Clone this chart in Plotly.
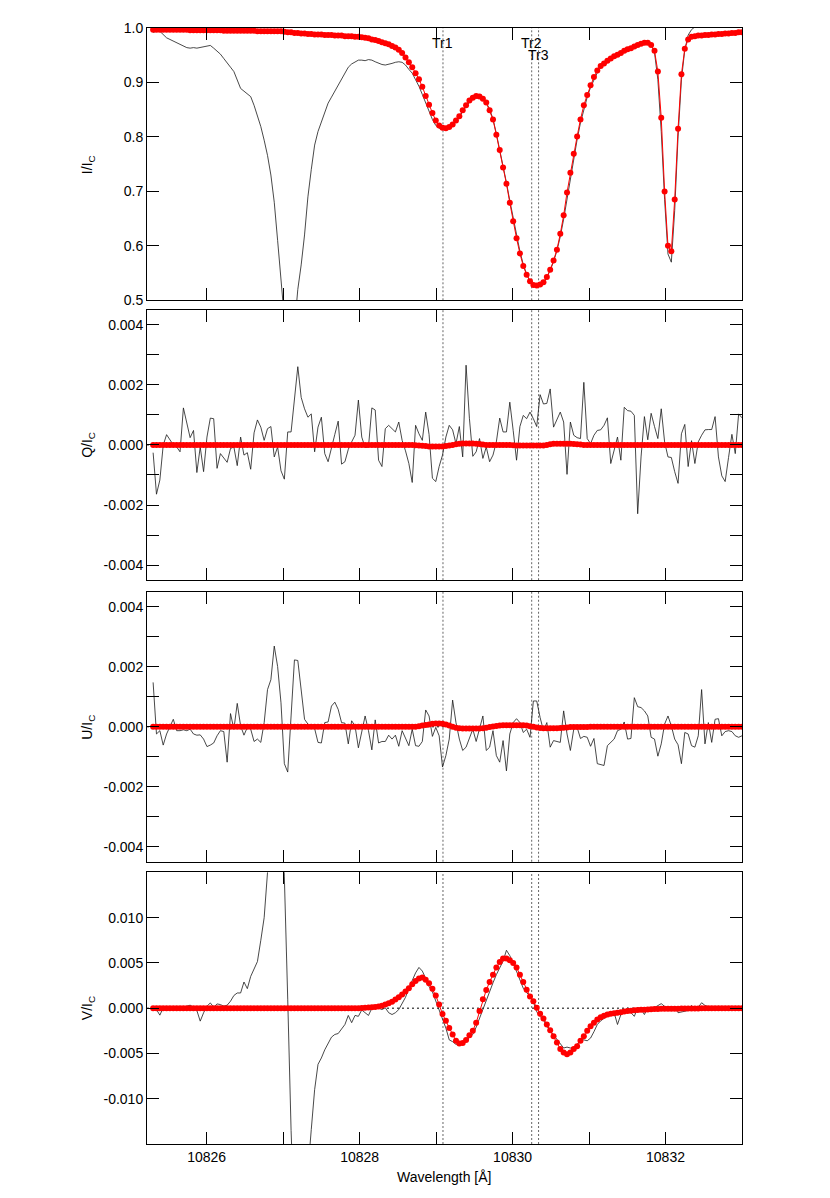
import plotly.graph_objects as go
from plotly.subplots import make_subplots

# wavelength grid [A]
WAVELENGTH = [
    10825.300, 10825.344, 10825.388, 10825.432, 10825.476, 10825.520, 10825.564, 10825.608, 10825.652, 10825.696,
    10825.740, 10825.784, 10825.828, 10825.872, 10825.916, 10825.960, 10826.004, 10826.048, 10826.092, 10826.136,
    10826.180, 10826.224, 10826.268, 10826.312, 10826.356, 10826.400, 10826.444, 10826.488, 10826.532, 10826.576,
    10826.620, 10826.664, 10826.708, 10826.752, 10826.796, 10826.840, 10826.884, 10826.928, 10826.972, 10827.016,
    10827.060, 10827.104, 10827.148, 10827.192, 10827.236, 10827.280, 10827.324, 10827.368, 10827.412, 10827.456,
    10827.500, 10827.544, 10827.588, 10827.632, 10827.676, 10827.720, 10827.764, 10827.808, 10827.852, 10827.896,
    10827.940, 10827.984, 10828.028, 10828.072, 10828.116, 10828.160, 10828.204, 10828.248, 10828.292, 10828.336,
    10828.380, 10828.424, 10828.468, 10828.512, 10828.556, 10828.600, 10828.644, 10828.688, 10828.732, 10828.776,
    10828.820, 10828.864, 10828.908, 10828.952, 10828.996, 10829.040, 10829.084, 10829.128, 10829.172, 10829.216,
    10829.260, 10829.304, 10829.348, 10829.392, 10829.436, 10829.480, 10829.524, 10829.568, 10829.612, 10829.656,
    10829.700, 10829.744, 10829.788, 10829.832, 10829.876, 10829.920, 10829.964, 10830.008, 10830.052, 10830.096,
    10830.140, 10830.184, 10830.228, 10830.272, 10830.316, 10830.360, 10830.404, 10830.448, 10830.492, 10830.536,
    10830.580, 10830.624, 10830.668, 10830.712, 10830.756, 10830.800, 10830.844, 10830.888, 10830.932, 10830.976,
    10831.020, 10831.064, 10831.108, 10831.152, 10831.196, 10831.240, 10831.284, 10831.328, 10831.372, 10831.416,
    10831.460, 10831.504, 10831.548, 10831.592, 10831.636, 10831.680, 10831.724, 10831.768, 10831.812, 10831.856,
    10831.900, 10831.944, 10831.988, 10832.032, 10832.076, 10832.120, 10832.164, 10832.208, 10832.252, 10832.296,
    10832.340, 10832.384, 10832.428, 10832.472, 10832.516, 10832.560, 10832.604, 10832.648, 10832.692, 10832.736,
    10832.780, 10832.824, 10832.868, 10832.912, 10832.956, 10833.000,
]

# observed Stokes I/Ic
I_OBS = [
    0.992, 0.994, 0.994, 0.988, 0.982, 0.979, 0.976, 0.972, 0.969, 0.966,
    0.964, 0.963, 0.964, 0.963, 0.964, 0.966, 0.967, 0.968, 0.963, 0.957,
    0.952, 0.944, 0.935, 0.928, 0.920, 0.905, 0.889, 0.884, 0.879, 0.874,
    0.858, 0.840, 0.819, 0.794, 0.766, 0.730, 0.680, 0.610, 0.520, 0.440,
    0.395, 0.395, 0.450, 0.520, 0.565, 0.620, 0.690, 0.740, 0.785, 0.810,
    0.828, 0.848, 0.862, 0.873, 0.884, 0.896, 0.907, 0.919, 0.928, 0.934,
    0.938, 0.941, 0.941, 0.940, 0.942, 0.941, 0.938, 0.935, 0.933, 0.932,
    0.933, 0.935, 0.937, 0.938, 0.937, 0.932, 0.924, 0.917, 0.905, 0.893,
    0.878, 0.863, 0.847, 0.832, 0.821, 0.816, 0.814, 0.814, 0.817, 0.822,
    0.829, 0.837, 0.846, 0.856, 0.864, 0.871, 0.875, 0.875, 0.871, 0.863,
    0.851, 0.833, 0.806, 0.778, 0.747, 0.716, 0.683, 0.650, 0.618, 0.590,
    0.566, 0.548, 0.535, 0.527, 0.525, 0.527, 0.533, 0.542, 0.555, 0.571,
    0.591, 0.617, 0.649, 0.687, 0.725, 0.762, 0.795, 0.826, 0.852, 0.873,
    0.891, 0.906, 0.918, 0.927, 0.934, 0.939, 0.943, 0.947, 0.951, 0.955,
    0.958, 0.961, 0.964, 0.967, 0.970, 0.972, 0.974, 0.974, 0.970, 0.955,
    0.905, 0.810, 0.685, 0.585, 0.570, 0.665, 0.800, 0.905, 0.960, 0.987,
    0.997, 1.002, 1.004, 1.005, 1.005, 1.006, 1.006, 1.006, 1.007, 1.007,
    1.007, 1.008, 1.008, 1.008, 1.008, 1.008,
]

# inverted (fitted) Stokes I/Ic
I_FIT = [
    0.997, 0.997, 0.997, 0.997, 0.997, 0.997, 0.997, 0.997, 0.997, 0.997,
    0.997, 0.996, 0.996, 0.996, 0.996, 0.996, 0.996, 0.996, 0.996, 0.996,
    0.996, 0.995, 0.995, 0.995, 0.995, 0.995, 0.995, 0.995, 0.995, 0.995,
    0.995, 0.994, 0.994, 0.994, 0.994, 0.994, 0.994, 0.994, 0.994, 0.993,
    0.992, 0.992, 0.991, 0.991, 0.990, 0.990, 0.989, 0.989, 0.988, 0.988,
    0.988, 0.987, 0.987, 0.987, 0.986, 0.986, 0.986, 0.985, 0.985, 0.985,
    0.984, 0.984, 0.983, 0.982, 0.981, 0.979, 0.978, 0.976, 0.974, 0.972,
    0.970, 0.967, 0.964, 0.960, 0.954, 0.946, 0.937, 0.928, 0.917, 0.906,
    0.892, 0.875, 0.859, 0.844, 0.830, 0.821, 0.817, 0.816, 0.818, 0.823,
    0.830, 0.838, 0.849, 0.858, 0.867, 0.872, 0.875, 0.874, 0.870, 0.863,
    0.849, 0.832, 0.804, 0.776, 0.744, 0.714, 0.679, 0.645, 0.614, 0.586,
    0.563, 0.547, 0.535, 0.528, 0.527, 0.529, 0.533, 0.543, 0.556, 0.573,
    0.593, 0.622, 0.656, 0.698, 0.734, 0.769, 0.801, 0.832, 0.858, 0.877,
    0.895, 0.910, 0.922, 0.930, 0.935, 0.940, 0.944, 0.948, 0.951, 0.954,
    0.958, 0.961, 0.963, 0.966, 0.969, 0.971, 0.973, 0.973, 0.969, 0.958,
    0.920, 0.835, 0.700, 0.600, 0.590, 0.685, 0.815, 0.915, 0.962, 0.979,
    0.984, 0.985, 0.986, 0.986, 0.987, 0.987, 0.988, 0.988, 0.989, 0.989,
    0.990, 0.990, 0.991, 0.991, 0.992, 0.992,
]

# observed Stokes Q/Ic
Q_OBS = [
    -0.00026, -0.00164, -0.00117, -0.00001, 0.00034, 0.00017, 0.0, -0.00007, -0.00023, 0.00123,
    0.0007, 0.00024, 0.00048, -0.00092, -0.00007, -0.00089, 0.00026, 0.00089, 0.00087, -0.00078,
    -0.00029, -0.00042, -0.00058, -0.00012, -0.00007, -0.00069, 0.00026, -0.00034, -0.00026, -0.00081,
    0.0004, 0.00083, 0.00059, 0.00015, 0.00054, 0.00061, -0.0004, -0.00007, -0.00086, -0.00114,
    0.00043, 0.00043, 0.00158, 0.0026, 0.00158, 0.0012, 0.00092, 0.00103, -0.00023, 0.00059,
    0.00092, -0.00029, -0.00056, -0.00007, 0.00035, 0.00079, -0.00064, -0.00056, -0.00015, 0.0001,
    0.00032, 0.00149, 0.00026, -0.00009, -0.00007, 0.00123, 0.00116, -0.00051, -0.00072, 0.00054,
    0.00065, 0.00054, 0.00043, 0.00076, 0.00015, -0.0002, -0.00062, -0.00125, 0.00065, 0.00037,
    0.00015, 0.00109, 0.00035, -0.00111, -0.00122, -0.00072, -0.00034, 0.00026, 0.00065, 0.0005,
    0.00004, 0.00061, -0.0004, 0.00265, 0.00087, -0.00038, -0.00023, 0.00021, -0.00045, -0.00007,
    -0.00056, -0.00034, 0.0001, 0.00089, 0.00043, 0.00043, 0.00142, 0.00048, -0.00051, 0.00061,
    0.00098, 0.00087, 0.00109, 0.00087, 0.00061, 0.00167, 0.00136, 0.00138, 0.00186, 0.00059,
    0.00087, 0.00109, 0.00076, -0.00098, 0.00076, 0.00032, 0.00024, 0.00021, 0.00208, 0.00021,
    0.00004, 0.00032, 0.00048, 0.0005, 0.00065, 0.0009, -0.00062, -0.00018, 0.00026, -0.00051,
    0.00125, 0.00114, 0.00112, 0.00098, -0.00229, -0.0004, 0.00094, 0.00017, 0.00105, 0.00061,
    0.00021, 0.0012, 0.0001, -0.0004, -0.00042, -0.00089, -0.00128, 0.00037, 0.00068, -0.00072,
    0.00014, -0.00062, 0.0001, 0.00032, 0.0005, 0.00051, 0.00051, 0.00094, -0.0004, -0.00103,
    -0.00122, -0.00042, 0.00035, -0.00029, 0.00103, 0.0009,
]

Q_FIT = (
    [0.0] * 78
    + [-0.00001, -0.00002,
       -0.00003, -0.00004, -0.00005, -0.00005, -0.00005, -0.00005, -0.00005, -0.00004, -0.00002, 0.0,
       0.00002, 0.00004, 0.00005, 0.00005, 0.00005, 0.00005, 0.00004, 0.00003, 0.00001, 0.0]
    + [0.0] * 7
    + [-0.00001, -0.00002, -0.00002,
       -0.00002, -0.00002, -0.00002, -0.00002, -0.00002, -0.00002, -0.00002, 0.0, 0.00002, 0.00004,
       0.00004, 0.00004, 0.00004, 0.00004, 0.00004, 0.00003, 0.00002, 0.00001]
    + [0.0] * 48
)

# observed Stokes U/Ic
U_OBS = [
    0.00148, -0.00024, -0.00013, -0.00061, -0.00024, 0.00003, 0.00025, -0.00013, -0.00013, -0.0001,
    -0.00013, -0.00008, -0.00024, -0.00028, -0.00027, -0.00041, -0.00066, -0.00061, -0.00054, -0.0003,
    -0.00013, -0.00016, -0.00118, 0.00044, -0.00008, 0.00078, 0.00003, -0.00028, -0.00002, -0.00008,
    -0.00049, -0.00041, -0.00052, 0.00014, 0.00124, 0.00157, 0.00269, 0.00201, 0.0008, -0.00123,
    -0.00151, 0.00036, 0.00223, 0.00221, 0.00124, 0.00025, 0.00009, 0.00001, -0.00006, -0.00052,
    -0.00054, 0.00014, 0.00016, 0.00069, 0.00082, 0.00058, 0.00014, 0.00012, -0.00057, 0.0002,
    0.00003, -0.0007, -0.00013, 0.00036, -0.00013, -0.00077, 0.00023, -0.00054, -0.00049, -0.00049,
    -0.00028, -0.00041, -0.00028, -0.00065, -0.00013, -0.00038, -0.00063, -0.00008, -0.00063, -0.00065,
    -0.00049, 0.00056, 0.00036, -0.00032, -0.00002, -0.0003, -0.00134, -0.00096, -0.00041, 0.00089,
    0.00014, -0.00041, -0.00079, -0.00068, -0.00041, -0.00008, -0.00049, -0.00008, 0.00036, -0.00079,
    -0.00068, -0.00013, -0.00096, -0.00118, -0.00046, -0.00147, -0.00024, 0.00014, 0.00027, 0.00014,
    -0.00019, -0.00008, -0.00035, 0.00086, 0.00086, 0.00031, -0.00013, 0.00014, -0.00068, -0.00046,
    -0.00049, -0.00052, 0.00053, -0.00024, -0.00079, -0.00008, -0.00002, -0.00039, -0.00032, -0.00035,
    -0.00065, -0.00039, -0.00123, -0.00127, -0.00129, -0.00063, -0.00052, -0.00041, -0.00013, -0.00008,
    0.00016, -0.00041, -0.00039, 0.00097, 0.00067, 0.00064, 0.00053, 0.00036, -0.00035, -0.00041,
    -0.00098, -0.00057, 0.00009, 0.00036, 0.00003, -0.00041, -0.0006, -0.00123, -0.00019, -0.00024,
    -0.00063, -0.00068, -0.0003, 0.00124, -0.00057, 0.00014, -0.00052, 0.00025, 0.00027, -0.0003,
    -0.00016, -0.00013, -0.00016, -0.0003, -0.00035, -0.0003,
]

U_FIT = (
    [0.0] * 79
    + [0.00002,
       0.00004, 0.00006, 0.00008, 0.0001, 0.00011, 0.00011, 0.0001, 0.00008, 0.00004, 0.0,
       -0.00003, -0.00005, -0.00006, -0.00006, -0.00006, -0.00006, -0.00006, -0.00006, -0.00005, -0.00003,
       -0.00001, 0.00001, 0.00003, 0.00004, 0.00005, 0.00005, 0.00005, 0.00005, 0.00005, 0.00005,
       0.00005, 0.00004, 0.00002, 0.0, -0.00002, -0.00004, -0.00005, -0.00005, -0.00005, -0.00005,
       -0.00005, -0.00004, -0.00003, -0.00002, -0.00001, -0.00001, -0.00001, -0.00001, -0.00001, -0.00001]
    + [0.0] * 46
)

# observed Stokes V/Ic
V_OBS = [
    -0.00026, -0.00015, -0.00077, 0.00004, 0.00004, 0.0, -0.00004, -0.00015, -0.00026, 0.0,
    0.00022, 0.00033, 0.00011, -0.00026, -0.00143, -0.00051, 0.00022, 0.00058, 0.00011, 0.00047,
    0.0004, 0.00022, 0.00033, 0.00077, 0.0014, 0.00168, 0.00168, 0.00289, 0.00216, 0.00351,
    0.00442, 0.00515, 0.0075, 0.01, 0.015, 0.0195, 0.024, 0.028, 0.0245, 0.0145,
    0.001, -0.0135, -0.024, -0.029, -0.027, -0.023, -0.018, -0.0134, -0.009, -0.0062,
    -0.0055, -0.0046, -0.0039, -0.0032, -0.0029, -0.0028, -0.0023, -0.0018, -0.0008, -0.0016,
    -0.0008, -0.0009, -0.0002, -0.0005, -0.0008, 0.0, 0.0001, 0.0, -0.00015, 0.00004,
    -0.0005, -0.0007, -0.0005, -0.00015, 0.0005, 0.0012, 0.0022, 0.0031, 0.0039, 0.0045,
    0.0041, 0.0033, 0.0024, 0.0018, 0.0008, -0.00015, -0.0011, -0.0022, -0.0035, -0.0037,
    -0.004, -0.0039, -0.004, -0.0037, -0.0032, -0.0029, -0.0021, -0.0011, 0.0, 0.0008,
    0.0018, 0.0028, 0.0037, 0.0044, 0.0052, 0.0064, 0.0058, 0.005, 0.0041, 0.003,
    0.0022, 0.0017, 0.0014, 0.0007, -0.0004, -0.0009, -0.0013, -0.002, -0.0025, -0.003,
    -0.0035, -0.004, -0.0044, -0.0043, -0.0044, -0.0043, -0.004, -0.0035, -0.0035, -0.0036,
    -0.0033, -0.0026, -0.0018, -0.0014, -0.0011, -0.0009, -0.0006, -0.0005, -0.0018, -0.0007,
    -0.0003, 0.00004, -0.0005, -0.0009, 0.00004, -0.00015, -0.0007, 0.00004, -0.00015, 0.00004,
    0.0003, 0.0005, 0.0002, 0.00004, -0.00026, 0.00004, -0.0005, -0.0004, -0.0003, -0.00026,
    0.0003, -0.00015, 0.0001, 0.0006, 0.0003, 0.0002, 0.00004, 0.00004, 0.0002, 0.00004,
    -0.00007, 0.00004, 0.0, -0.00004, 0.0, 0.0,
]

V_FIT = (
    [0.0] * 60
    + [0.0, 0.0, 0.00002, 0.00004, 0.00007, 0.0001, 0.00014, 0.0002, 0.00028, 0.0004,
       0.00055, 0.00072, 0.00095, 0.0012, 0.0015, 0.00185, 0.0022, 0.00265, 0.003, 0.00328,
       0.0034, 0.00315, 0.00275, 0.00215, 0.0014, 0.0004, -0.00065, -0.0014, -0.0022, -0.0029,
       -0.0036, -0.0039, -0.00385, -0.0035, -0.003, -0.0025, -0.0016, -0.0003, 0.001, 0.002,
       0.0029, 0.0037, 0.0045, 0.0051, 0.0055, 0.0055, 0.0053, 0.005, 0.0045, 0.0037,
       0.0029, 0.00205, 0.0013, 0.00077, 0.00004, -0.00062, -0.00113, -0.0018, -0.00245, -0.0031,
       -0.0038, -0.0045, -0.0049, -0.0051, -0.0049, -0.0045, -0.0042, -0.0036, -0.0031, -0.0025,
       -0.002, -0.0016, -0.00124, -0.001, -0.00084, -0.0007, -0.00062, -0.00055, -0.0005, -0.00044,
       -0.00036, -0.0003, -0.00027, -0.00024, -0.00021, -0.00018, -0.00016, -0.00014, -0.00012, -0.0001,
       -0.00008, -0.00007, -0.00006, -0.00006, -0.00005, -0.00005, -0.00005, -0.00004, -0.00004, -0.00004,
       -0.00003, -0.00003, -0.00003, -0.00002, -0.00002, -0.00002, -0.00001, -0.00001, -0.00001, -0.00001,
       -0.00001, -0.00001, -0.00001, -0.00001, -0.00001, -0.00001]
)

# He I 10830 transitions
TRANSITION_NAMES = ["Tr1", "Tr2", "Tr3"]
TRANSITION_WL = [10829.09, 10830.25, 10830.34]

I_TICKS = [0.5, 0.6, 0.7, 0.8, 0.9, 1.0]
I_TICKTEXT = ["0.5", "0.6", "0.7", "0.8", "0.9", "1.0"]
QU_TICKS = [-0.004, -0.002, 0.0, 0.002, 0.004]
QU_TICKTEXT = ["-0.004", "-0.002", "0.000", "0.002", "0.004"]
V_TICKS = [-0.010, -0.005, 0.0, 0.005, 0.010]
V_TICKTEXT = ["-0.010", "-0.005", "0.000", "0.005", "0.010"]
X_TICKS = [10826, 10828, 10830, 10832]
X_TICKTEXT = ["10826", "10828", "10830", "10832"]

for arr in (I_OBS, I_FIT, Q_OBS, Q_FIT, U_OBS, U_FIT, V_OBS, V_FIT):
    assert len(arr) == len(WAVELENGTH), len(arr)

FONT = "Liberation Sans, Arial, Helvetica, sans-serif"

panels = [
    ("I/I<sub>C</sub>", I_OBS, I_FIT, [0.5, 1.0], I_TICKS, I_TICKTEXT, None, [0.7560, 1.0]),
    ("Q/I<sub>C</sub>", Q_OBS, Q_FIT, [-0.0045, 0.0045], QU_TICKS, QU_TICKTEXT, 0.001, [0.5052, 0.7477]),
    ("U/I<sub>C</sub>", U_OBS, U_FIT, [-0.0045, 0.0045], QU_TICKS, QU_TICKTEXT, 0.001, [0.2529, 0.4948]),
    ("V/I<sub>C</sub>", V_OBS, V_FIT, [-0.015, 0.015], V_TICKS, V_TICKTEXT, None, [0.0, 0.2434]),
]

fig = make_subplots(rows=4, cols=1, shared_xaxes=True, vertical_spacing=0.01)

annotations = []
shapes = []

for i, (label, obs, fit, yrange, ticks, ticktext, minor, domain) in enumerate(panels):
    row = i + 1
    fig.add_trace(go.Scatter(
        x=WAVELENGTH, y=obs, mode="lines",
        line=dict(color="#1a1a1a", width=0.8),
        hoverinfo="skip",
    ), row=row, col=1)
    fig.add_trace(go.Scatter(
        x=WAVELENGTH, y=fit, mode="lines+markers",
        line=dict(color="#ff0000", width=1),
        marker=dict(color="#ff0000", size=6),
    ), row=row, col=1)

    yax = dict(
        range=yrange, domain=domain, tickvals=ticks, ticktext=ticktext,
        ticks="inside", ticklen=12, tickwidth=1, tickcolor="black",
        showline=True, linecolor="black", linewidth=1, mirror="ticks",
        showgrid=False, zeroline=False, ticklabelstandoff=0,
        tickfont=dict(family=FONT, size=14, color="black"),
    )
    if minor:
        yax["minor"] = dict(dtick=minor, tick0=0, ticks="inside", ticklen=12,
                            tickwidth=1, tickcolor="black", showgrid=False)
    fig.update_yaxes(row=row, col=1, **yax)

    fig.update_xaxes(
        row=row, col=1, range=[10825.22, 10833.0],
        tickvals=X_TICKS, ticktext=X_TICKTEXT,
        ticks="inside", ticklen=12, tickwidth=1, tickcolor="black",
        minor=dict(dtick=1, tick0=10826, ticks="inside", ticklen=12,
                   tickwidth=1, tickcolor="black", showgrid=False),
        showline=True, linecolor="black", linewidth=1, mirror="ticks",
        showgrid=False, zeroline=False, showticklabels=(row == 4),
        tickfont=dict(family=FONT, size=14, color="black"),
    )

    xname = "x" if row == 1 else f"x{row}"
    yname = "y" if row == 1 else f"y{row}"

    # transition markers
    for wl in TRANSITION_WL:
        shapes.append(dict(
            type="line", xref=xname, yref=f"{yname} domain",
            x0=wl, x1=wl, y0=0, y1=1, layer="below",
            line=dict(color="#666666", width=1, dash="2px,2px"),
        ))
    # zero level for polarisation
    if row > 1:
        shapes.append(dict(
            type="line", xref=f"{xname} domain", yref=yname,
            x0=0, x1=1, y0=0, y1=0, layer="below",
            line=dict(color="black", width=1, dash="2px,3px"),
        ))

    annotations.append(dict(
        text=label, xref="paper", yref="paper",
        x=-0.0992, y=(domain[0] + domain[1]) / 2,
        xanchor="center", yanchor="middle", textangle=-90, showarrow=False,
        font=dict(family=FONT, size=14, color="black"),
    ))

label_y = [0.9866, 0.9866, 0.9755]
for name, wl, ly in zip(TRANSITION_NAMES, TRANSITION_WL, label_y):
    annotations.append(dict(
        text=name, xref="x", yref="paper", x=wl, y=ly,
        xanchor="center", yanchor="middle", showarrow=False,
        font=dict(family=FONT, size=14, color="black"),
    ))

annotations.append(dict(
    text="Wavelength [Å]", xref="paper", yref="paper", x=0.499, y=-0.0294,
    xanchor="center", yanchor="middle", showarrow=False,
    font=dict(family=FONT, size=14, color="black"),
))

# page body adds an 8 px offset, so the figure is sized to keep the
# plotting area at the reference pixel positions
fig.update_layout(
    width=822, height=1190,
    margin=dict(l=139, r=88, t=13, b=54),
    paper_bgcolor="white", plot_bgcolor="white",
    showlegend=False,
    annotations=annotations,
    shapes=shapes,
    font=dict(family=FONT, size=14, color="black"),
)

fig.write_html("out.html")
